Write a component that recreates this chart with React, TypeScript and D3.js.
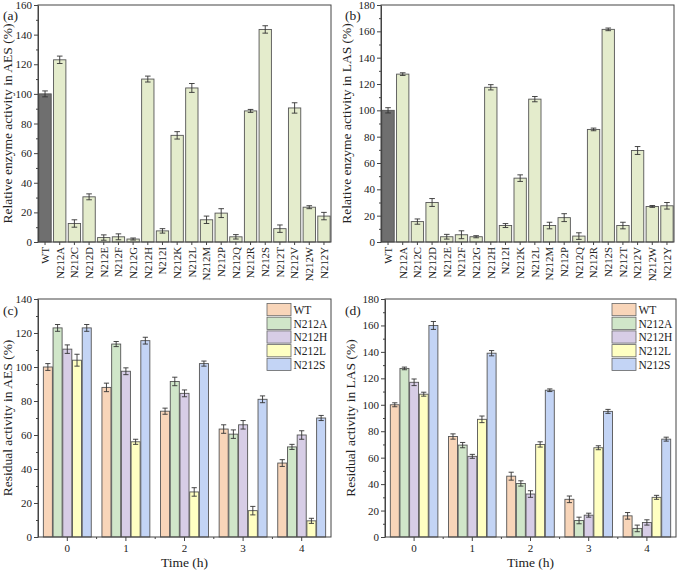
import { useRef, useEffect } from "react";
import * as d3 from "d3";

// panels (a) and (b): relative activity of each mutant
const mutants = ["WT", "N212A", "N212C", "N212D", "N212E", "N212F", "N212G", "N212H", "N212I", "N212K",
    "N212L", "N212M", "N212P", "N212Q", "N212R", "N212S", "N212T", "N212V", "N212W", "N212Y"];
const aesActivity = [100, 123, 12.5, 30.5, 3, 3.5, 2, 110, 7.5, 72, 104, 15, 19.5, 3.5, 88.5, 143.5, 9, 90.5, 23.5, 17.5];
const aesError = [2, 2.5, 2.5, 2, 1.8, 2, 0.7, 2, 1.5, 2.5, 3, 2.5, 3, 1.5, 1, 2.5, 2.5, 3.5, 1, 2.5];
const lasActivity = [100, 127.5, 15.5, 30, 4, 5.5, 4, 117.5, 12.5, 48.5, 108.5, 12.5, 18.5, 4.5, 85.5, 161.5, 12.5, 69.5, 27, 27.5];
const lasError = [2, 1, 2, 3, 1.8, 3, 0.8, 2, 1.5, 2.5, 2, 2.5, 3, 2.5, 1, 1, 2.5, 3, 0.7, 2.5];

// panels (c) and (d): residual activity over time
const hours = ["0", "1", "2", "3", "4"];
const variants = ["WT", "N212A", "N212H", "N212L", "N212S"];
const variantColors = ["#F8D5B9", "#D0E6C9", "#D7CDE6", "#FFFFC2", "#C3D4F5"];

const aesResWT = [100, 88, 74, 63.5, 43.5];
const aesResA = [123, 113.5, 91.5, 60.5, 53];
const aesResH = [110.5, 97.5, 84.5, 66, 60];
const aesResL = [104, 56, 26.5, 15.5, 9.5];
const aesResS = [123, 115.5, 102, 81, 70];
const aesResErrWT = [2, 2.5, 1.8, 2.5, 2];
const aesResErrA = [2, 1.5, 2.5, 2.5, 1.5];
const aesResErrH = [2.5, 2, 2, 2.5, 2.5];
const aesResErrL = [3.5, 1.5, 2.5, 2.5, 1.5];
const aesResErrS = [2, 2, 1.5, 2, 1.5];

const lasResWT = [100, 76, 46, 28.5, 16];
const lasResA = [127.5, 69.5, 40.5, 12.5, 6.5];
const lasResH = [117, 61, 32.5, 16.5, 11];
const lasResL = [108, 89, 70, 67.5, 30];
const lasResS = [160, 139, 111, 95, 74];
const lasResErrWT = [1.5, 2, 3, 2.5, 2.5];
const lasResErrA = [1, 2, 2, 2.5, 2.5];
const lasResErrH = [2.5, 1.5, 2.5, 1.5, 2];
const lasResErrL = [1.5, 2.5, 2, 1.5, 1.5];
const lasResErrS = [3, 2, 1, 1.5, 1.5];

const FONT = "'Liberation Serif', 'Times New Roman', serif";
const AXIS = "#444";

interface Box { left: number; right: number; top: number; bottom: number; }

function drawYAxis(g: any, y: d3.ScaleLinear<number, number>, box: Box, max: number) {
    const major = d3.range(0, max + 1, 20);
    const minor = d3.range(10, max, 20);
    g.append("g")
        .attr("transform", `translate(${box.left},0)`)
        .call(d3.axisLeft(y).tickValues(minor).tickSize(2).tickFormat(() => ""))
        .call((a: any) => a.select(".domain").remove());
    const ax = g.append("g")
        .attr("transform", `translate(${box.left},0)`)
        .call(d3.axisLeft(y).tickValues(major).tickSize(4).tickPadding(2).tickSizeOuter(0));
    ax.selectAll("text").style("font-family", FONT).style("font-size", "11px").attr("fill", "#222");
    g.selectAll("line, path").attr("stroke", AXIS);
}

function drawFrame(g: any, box: Box) {
    g.append("rect")
        .attr("x", box.left).attr("y", box.top)
        .attr("width", box.right - box.left).attr("height", box.bottom - box.top)
        .attr("fill", "none").attr("stroke", AXIS).attr("stroke-width", 1);
}

function errorBar(g: any, cx: number, y: d3.ScaleLinear<number, number>, v: number, e: number, cap: number) {
    const eg = g.append("g").attr("stroke", "#333").attr("stroke-width", 0.9);
    eg.append("line").attr("x1", cx).attr("x2", cx).attr("y1", y(v - e)).attr("y2", y(v + e));
    eg.append("line").attr("x1", cx - cap).attr("x2", cx + cap).attr("y1", y(v - e)).attr("y2", y(v - e));
    eg.append("line").attr("x1", cx - cap).attr("x2", cx + cap).attr("y1", y(v + e)).attr("y2", y(v + e));
}

function yTitle(g: any, x: number, box: Box, text: string) {
    g.append("text")
        .attr("transform", `translate(${x},${(box.top + box.bottom) / 2}) rotate(-90)`)
        .attr("text-anchor", "middle")
        .style("font-family", FONT).style("font-size", "13.5px").attr("fill", "#222")
        .text(text);
}

function panelLabel(g: any, x: number, y: number, text: string) {
    g.append("text").attr("x", x).attr("y", y)
        .style("font-family", FONT).style("font-size", "13.5px").attr("fill", "#222")
        .text(text);
}

function drawMutantPanel(svg: any, box: Box, max: number, values: number[], errors: number[], title: string, labelX: number) {
    const g = svg.append("g");
    const x = d3.scaleBand().domain(mutants).range([box.left, box.right]).paddingInner(0.16).paddingOuter(0.06);
    const y = d3.scaleLinear().domain([0, max]).range([box.bottom, box.top]);

    mutants.forEach((m, i) => {
        g.append("rect")
            .attr("x", x(m)!).attr("y", y(values[i]))
            .attr("width", x.bandwidth()).attr("height", y(0) - y(values[i]))
            .attr("fill", i === 0 ? "#6F6F6F" : "#E4ECCC")
            .attr("stroke", "#555").attr("stroke-width", 0.9);
        errorBar(g, x(m)! + x.bandwidth() / 2, y, values[i], errors[i], 2.8);
    });

    drawFrame(g, box);
    const axG = g.append("g");
    drawYAxis(axG, y, box, max);

    const xa = g.append("g")
        .attr("transform", `translate(0,${box.bottom})`)
        .call(d3.axisBottom(x).tickSize(3).tickSizeOuter(0));
    xa.select(".domain").remove();
    xa.selectAll("line").attr("stroke", AXIS);
    xa.selectAll("text")
        .attr("transform", "rotate(-90)")
        .attr("x", -5).attr("y", 0).attr("dy", "0.35em")
        .style("text-anchor", "end")
        .style("font-family", FONT).style("font-size", "10.8px").attr("fill", "#222");

    yTitle(g, labelX, box, title);
}

function drawTimePanel(svg: any, box: Box, max: number, series: number[][], errs: number[][], title: string, labelX: number) {
    const g = svg.append("g");
    const x0 = d3.scaleBand().domain(hours).range([box.left, box.right]).padding(0);
    const x1 = d3.scaleBand().domain(variants).range([0, x0.bandwidth()]).paddingInner(0.07).paddingOuter(0.55);
    const y = d3.scaleLinear().domain([0, max]).range([box.bottom, box.top]);

    hours.forEach((h, hi) => {
        variants.forEach((v, vi) => {
            const val = series[vi][hi];
            const bx = x0(h)! + x1(v)!;
            g.append("rect")
                .attr("x", bx).attr("y", y(val))
                .attr("width", x1.bandwidth()).attr("height", y(0) - y(val))
                .attr("fill", variantColors[vi])
                .attr("stroke", "#555").attr("stroke-width", 0.9);
            errorBar(g, bx + x1.bandwidth() / 2, y, val, errs[vi][hi], 2.6);
        });
    });

    drawFrame(g, box);
    const axG = g.append("g");
    drawYAxis(axG, y, box, max);

    // minor ticks between time groups
    const bounds = d3.range(1, hours.length).map(i => box.left + i * x0.step());
    g.selectAll(".xminor").data(bounds).enter().append("line")
        .attr("x1", (d: number) => d).attr("x2", (d: number) => d)
        .attr("y1", box.bottom).attr("y2", box.bottom + 2).attr("stroke", AXIS);

    const xa = g.append("g")
        .attr("transform", `translate(0,${box.bottom})`)
        .call(d3.axisBottom(x0).tickSize(4).tickPadding(3).tickSizeOuter(0));
    xa.select(".domain").remove();
    xa.selectAll("line").attr("stroke", AXIS);
    xa.selectAll("text").style("font-family", FONT).style("font-size", "11px").attr("fill", "#222");

    g.append("text")
        .attr("x", (box.left + box.right) / 2).attr("y", box.bottom + 30)
        .attr("text-anchor", "middle")
        .style("font-family", FONT).style("font-size", "13.5px").attr("fill", "#222")
        .text("Time (h)");

    // legend
    const lx = box.right - 64, ly = box.top + 4.5;
    variants.forEach((v, i) => {
        g.append("rect")
            .attr("x", lx).attr("y", ly + i * 13.7)
            .attr("width", 24).attr("height", 12.2)
            .attr("fill", variantColors[i]).attr("stroke", "#666").attr("stroke-width", 0.8);
        g.append("text")
            .attr("x", lx + 26.5).attr("y", ly + i * 13.7 + 10.3)
            .style("font-family", FONT).style("font-size", "11.5px").attr("fill", "#222")
            .text(v);
    });

    yTitle(g, labelX, box, title);
}

const App: React.FC = () => {
    const svgRef = useRef(null);

    useEffect(() => {
        const svg = d3.select(svgRef.current);
        svg.selectAll("*").remove();

        drawMutantPanel(svg, { left: 38, right: 331, top: 5, bottom: 242 }, 160, aesActivity, aesError,
            "Relative enzyme activity in AES (%)", 12);
        drawMutantPanel(svg, { left: 381, right: 674, top: 5, bottom: 242 }, 180, lasActivity, lasError,
            "Relative enzyme activity in LAS (%)", 351);

        drawTimePanel(svg, { left: 38, right: 331, top: 299, bottom: 537 }, 140,
            [aesResWT, aesResA, aesResH, aesResL, aesResS],
            [aesResErrWT, aesResErrA, aesResErrH, aesResErrL, aesResErrS],
            "Residual activity in AES (%)", 12);
        drawTimePanel(svg, { left: 385, right: 676, top: 299, bottom: 537 }, 180,
            [lasResWT, lasResA, lasResH, lasResL, lasResS],
            [lasResErrWT, lasResErrA, lasResErrH, lasResErrL, lasResErrS],
            "Residual activity in LAS (%)", 355);

        panelLabel(svg, 3, 20, "(a)");
        panelLabel(svg, 345, 20, "(b)");
        panelLabel(svg, 3, 315, "(c)");
        panelLabel(svg, 345, 315, "(d)");
    }, []);

    return (
        <svg ref={svgRef} width={678} height={570}
            style={{ position: "absolute", left: 0, top: 0, background: "#fff" }}></svg>
    );
};

export default App;
